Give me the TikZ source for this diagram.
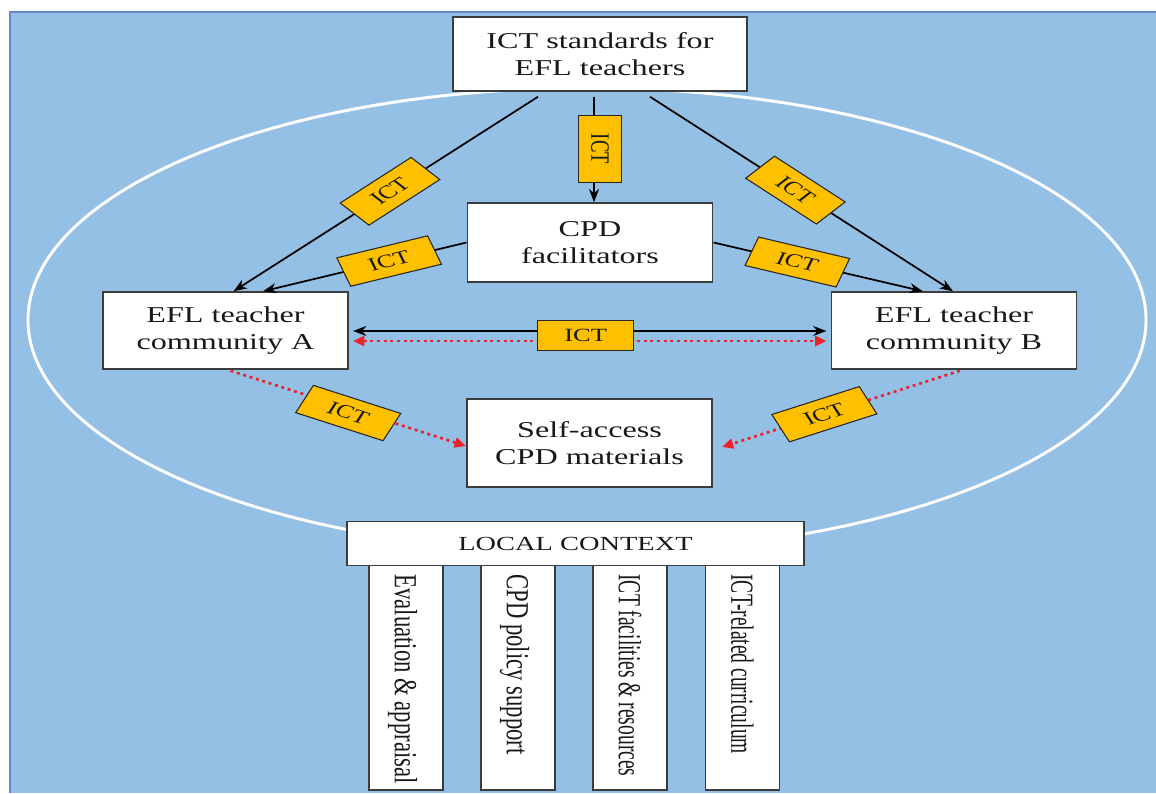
\documentclass[tikz,border=0pt]{standalone}
\usepackage{fontspec}
\setmainfont{Liberation Serif}
\usetikzlibrary{arrows.meta,calc}
\definecolor{bgblue}{RGB}{149,192,230}
\definecolor{edgeblue}{RGB}{105,135,200}
\definecolor{ictyellow}{RGB}{255,192,0}
\definecolor{boxedge}{RGB}{60,60,60}
\definecolor{dotred}{RGB}{235,35,45}

\begin{document}
\begin{tikzpicture}[x=0.75pt, y=-0.75pt,
  stretch/.style={xscale=1.42},
  box/.style={draw=boxedge, fill=white, line width=1.1pt, inner sep=0pt, align=center,
    text=black!90, font=\fontsize{17}{20.4}\selectfont, minimum width=129.4pt, stretch},
  ictlab/.style={draw=black!85, solid, fill=ictyellow, line width=0.8pt, inner sep=0pt,
    minimum width=50.7pt, minimum height=22.5pt, text=black!90,
    font=\fontsize{14}{16}\selectfont, stretch},
  blacktip/.style={Stealth[length=10pt,width=7.5pt]},
  redtip/.style={Triangle[length=8.5pt,width=7.5pt]},
  link/.style={line width=1.3pt, -{Stealth[length=10pt,width=7.5pt]}},
  linkboth/.style={line width=1.3pt, {Stealth[length=10pt,width=7.5pt]}-{Stealth[length=10pt,width=7.5pt]}},
  redlink/.style={draw=dotred, line width=2pt, dash pattern=on 2.2pt off 2.8pt,
    -{Triangle[length=8.5pt,width=7.5pt]}},
  redboth/.style={draw=dotred, line width=2pt, dash pattern=on 2.2pt off 2.8pt,
    {Triangle[length=8.5pt,width=7.5pt]}-{Triangle[length=8.5pt,width=7.5pt]}},
  pillar/.style={draw=boxedge, fill=white, line width=1.1pt, minimum width=39.1pt,
    minimum height=172.5pt, inner sep=0pt, stretch},
  ptext/.style={font=\fontsize{17}{20.4}\selectfont, text=black!90, inner sep=0pt,
    stretch, rotate=-90, anchor=base west}
]
\useasboundingbox (0,0) rectangle (1156,793);

% background panel
\fill[white] (0,0) rectangle (1156,793);
\fill[bgblue] (10,12) rectangle (1156,793);
\draw[edgeblue, line width=1.5pt] (10,793) -- (10,12) -- (1156,12);

% white ring around the community
\draw[white, line width=2.2pt] (587,320) ellipse [x radius=419.25pt, y radius=174pt];

% main boxes
\node[box, minimum width=155.3pt, minimum height=55.5pt] (std) at (600,54) {ICT standards for\\EFL teachers};
\node[box, minimum height=59.25pt] (cpd) at (590,242.5) {CPD\\facilitators};
\node[box, minimum height=57.75pt] (ca) at (225.5,330.5) {EFL teacher\\community A};
\node[box, minimum height=57.75pt] (cb) at (954,330.5) {EFL teacher\\community B};
\node[box, minimum height=66pt] (sa) at (589.5,443) {Self-access\\CPD materials};

% pillars of the local context
\node[pillar] (p1) at (406,675) {};
\node[pillar] (p2) at (518,675) {};
\node[pillar] (p3) at (630,675) {};
\node[pillar] (p4) at (742.5,675) {};
\node[box, minimum width=241.4pt, minimum height=33pt, font=\fontsize{15}{18}\selectfont] (lc) at (575.5,543.5) {LOCAL CONTEXT};

\node[ptext] (t1) at ($(p1.north west)+(27,15)$) {Evaluation \& appraisal};
\node[ptext] (t2) at ($(p2.north west)+(27,15)$) {CPD policy support};
\node[ptext, xscale=0.86] (t3) at ($(p3.north west)+(27,15)$) {ICT facilities \& resources};
\node[ptext, xscale=0.86] (t4) at ($(p4.north west)+(27,15)$) {ICT-related curriculum};

% connectors from the standards
\draw[link] ($(std.south)+(-62,5)$) -- node[ictlab, pos=.486, rotate=42.4] {ICT} ($(ca.north)+(8,0)$);
\draw[link] ($(std.south)+(-6,5)$) -- node[xshift=4.5pt, ictlab, pos=.495, rotate=-90] {ICT} ($(cpd.north)+(4,0)$);
\draw[link] ($(std.south)+(50,5)$) -- node[ictlab, pos=.48, rotate=-42.6] {ICT} ($(cb.north)+(-1,0)$);

% connectors from the facilitators
\draw[link] (cpd.west) -- node[ictlab, pos=.38, rotate=19] {ICT} ($(ca.north)+(37.5,0)$);
\draw[link] (cpd.east) -- node[ictlab, pos=.40, rotate=-18.5] {ICT} ($(cb.north)+(-31,0)$);

% exchange between the two communities
\draw[redboth] ($(ca.east)+(4,10.5)$) -- ($(cb.west)+(-4,10.5)$);
\draw[linkboth] ($(ca.east)+(4,0.5)$) -- node[xshift=-3pt, yshift=-3.4pt, ictlab] {ICT} ($(cb.west)+(-4,0.5)$);

% links to the self-access materials
\draw[redlink] ($(ca.south)+(5,1)$) -- node[yshift=-3.5pt, ictlab, pos=.5, rotate=-24.5] {ICT} ($(sa.west)+(0,3)$);
\draw[redlink] ($(cb.south)+(6,1)$) -- node[ictlab, pos=.57, rotate=24.4] {ICT} ($(sa.east)+(9,4)$);
\end{tikzpicture}
\end{document}
